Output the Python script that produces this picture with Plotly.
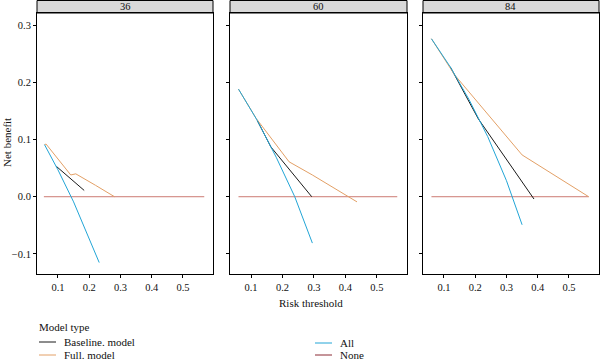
import plotly.graph_objects as go
from plotly.subplots import make_subplots

panels = ["36", "60", "84"]

# Baseline model
base_x = {"36": [0.095, 0.14, 0.184], "60": [0.12, 0.163, 0.293], "84": [0.12, 0.21, 0.388]}
base_y = {"36": [0.053, 0.032, 0.011], "60": [0.133, 0.087, 0.0], "84": [0.227, 0.136, -0.004]}
# Full model
full_x = {"36": [0.057, 0.062, 0.141, 0.157, 0.22, 0.281],
          "60": [0.06, 0.116, 0.221, 0.295, 0.437],
          "84": [0.06, 0.134, 0.350, 0.563]}
full_y = {"36": [0.091, 0.092, 0.038, 0.040, 0.020, 0.0],
          "60": [0.188, 0.137, 0.061, 0.038, -0.009],
          "84": [0.276, 0.213, 0.073, 0.0]}
# All
all_x = {"36": [0.057, 0.10, 0.15, 0.20, 0.232],
         "60": [0.06, 0.12, 0.18, 0.239, 0.295],
         "84": [0.06, 0.12, 0.18, 0.24, 0.30, 0.35]}
all_y = {"36": [0.091, 0.047, -0.009, -0.072, -0.115],
         "60": [0.188, 0.133, 0.069, 0.0, -0.081],
         "84": [0.276, 0.227, 0.170, 0.105, 0.028, -0.049]}
# None
none_x = {"36": [0.055, 0.568], "60": [0.06, 0.565], "84": [0.06, 0.563]}
none_y = {"36": [0.0, 0.0], "60": [0.0, 0.0], "84": [0.0, 0.0]}

x_ticks = [0.1, 0.2, 0.3, 0.4, 0.5]
y_ticks = [-0.1, 0.0, 0.1, 0.2, 0.3]

C_BASE = "#1a1a1a"
C_FULL = "#E3A066"
C_ALL = "#22A5D6"
C_NONE = "#CC7A72"

series = [
    ("None", none_x, none_y, C_NONE),
    ("Baseline. model", base_x, base_y, C_BASE),
    ("Full. model", full_x, full_y, C_FULL),
    ("All", all_x, all_y, C_ALL),
]

FONT = "Liberation Serif"
W, H = 600, 362
L, R, T, B = 37, 1, 13, 88
pw = W - L - R
ph = H - T - B

def px2fx(px):
    return (px - L) / pw

def py2fy(py):
    return (H - B - py) / ph

fig = make_subplots(rows=1, cols=3, shared_yaxes=True)
doms = [(37, 213), (230, 407), (423, 599)]

for i, p in enumerate(panels):
    for name, sx, sy, col in series:
        fig.add_trace(go.Scatter(x=sx[p], y=sy[p], mode="lines", name=name,
                                 line=dict(color=col, width=1), showlegend=False,
                                 hoverinfo="skip"), row=1, col=i + 1)

axis_common = dict(showline=True, linecolor="black", linewidth=1, mirror=True,
                   showgrid=False, zeroline=False, ticks="outside", ticklen=3,
                   tickcolor="black", tickwidth=1,
                   tickfont=dict(family=FONT, size=10.5, color="#111111"))

for i in range(3):
    a, b = doms[i]
    fig.update_xaxes(domain=[px2fx(a), px2fx(b)], range=[0.033, 0.596],
                     tickvals=x_ticks, tickformat=".1f", row=1, col=i + 1, **axis_common)
    fig.update_yaxes(range=[-0.135, 0.321], tickvals=y_ticks, tickformat=".1f",
                     showticklabels=(i == 0), row=1, col=i + 1, **axis_common)

shapes = []
annotations = []
strip_top = py2fy(0.5)
for i, p in enumerate(panels):
    a, b = doms[i]
    shapes.append(dict(type="rect", xref="paper", yref="paper",
                       x0=px2fx(a), x1=px2fx(b), y0=1, y1=strip_top,
                       fillcolor="#D9D9D9", line=dict(color="black", width=1), layer="below"))
    annotations.append(dict(text=p, xref="paper", yref="paper",
                            x=px2fx((a + b) / 2), y=py2fy(6.5), showarrow=False,
                            xanchor="center", yanchor="middle",
                            font=dict(family=FONT, size=10.5, color="#111111")))

# axis titles
annotations.append(dict(text="Risk threshold", xref="paper", yref="paper",
                        x=px2fx(311), y=py2fy(303), showarrow=False,
                        xanchor="center", yanchor="middle",
                        font=dict(family=FONT, size=11, color="#111111")))
annotations.append(dict(text="Net benefit", xref="paper", yref="paper",
                        x=px2fx(7), y=py2fy(143), showarrow=False, textangle=-90,
                        xanchor="center", yanchor="middle",
                        font=dict(family=FONT, size=11, color="#111111")))

# legend (manual)
annotations.append(dict(text="Model type", xref="paper", yref="paper",
                        x=px2fx(37), y=py2fy(327), showarrow=False,
                        xanchor="left", yanchor="middle",
                        font=dict(family=FONT, size=11, color="#111111")))
legend_items = [
    ("Baseline. model", C_BASE, 39, 342),
    ("Full. model", C_FULL, 39, 355),
    ("All", C_ALL, 315, 343),
    ("None", "#8B2A35", 315, 355),
]
for name, col, lx, ly in legend_items:
    shapes.append(dict(type="line", xref="paper", yref="paper",
                       x0=px2fx(lx), x1=px2fx(lx + 17), y0=py2fy(ly), y1=py2fy(ly),
                       line=dict(color=col, width=1)))
    annotations.append(dict(text=name, xref="paper", yref="paper",
                            x=px2fx(lx + 23), y=py2fy(ly), showarrow=False,
                            xanchor="left", yanchor="middle",
                            font=dict(family=FONT, size=11, color="#111111")))

fig.update_layout(width=W, height=H, margin=dict(l=L, r=R, t=T, b=B),
                  plot_bgcolor="white", paper_bgcolor="white",
                  showlegend=False, shapes=shapes, annotations=annotations,
                  font=dict(family=FONT, size=10, color="#111111"))

fig.write_html("out.html", config={"displayModeBar": False, "staticPlot": True},
               post_script="document.body.style.margin='0';document.body.style.padding='0';")
